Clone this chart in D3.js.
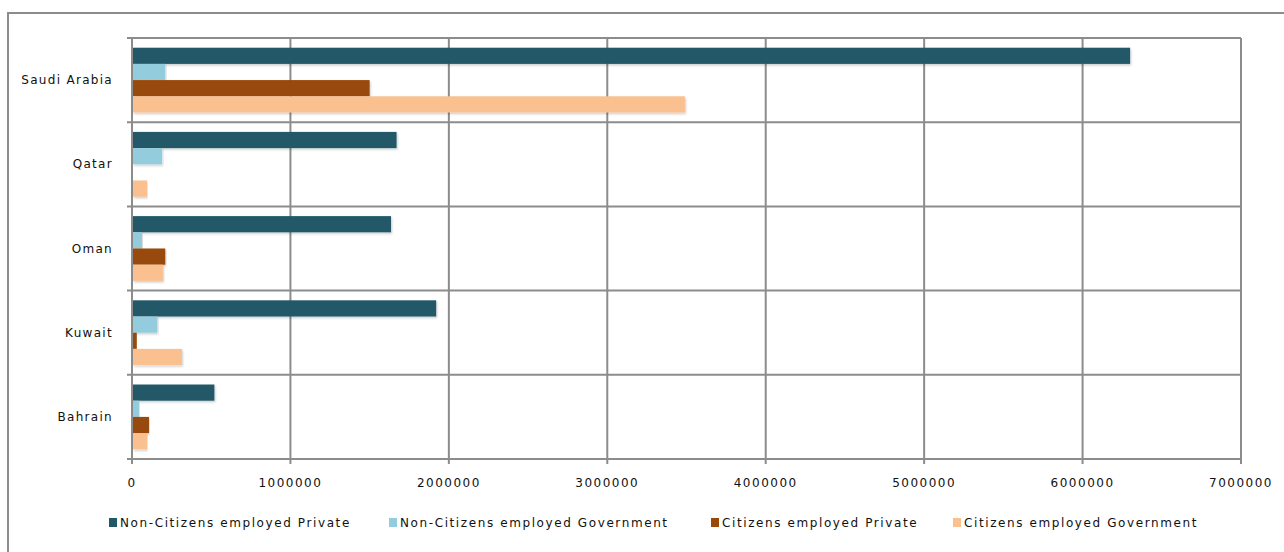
<!DOCTYPE html>
<html>
<head>
<meta charset="utf-8">
<script src="https://cdn.jsdelivr.net/npm/d3@7"></script>
<style>
  body { margin: 0; background: #fff; }
  text { font-family: "DejaVu Sans", Verdana, sans-serif; fill: #111; }
</style>
</head>
<body>
<div id="chart"></div>
<script>
// ---------- data ----------
var countries = ["Saudi Arabia", "Qatar", "Oman", "Kuwait", "Bahrain"];
var seriesNames = ["Non-Citizens employed Private", "Non-Citizens employed Government",
                   "Citizens employed Private", "Citizens employed Government"];
var nonCitPrivate = [6300000, 1670000, 1635000, 1920000, 520000];
var nonCitGov     = [210000, 190000, 63000, 160000, 45000];
var citPrivate    = [1500000, 0, 210000, 30000, 107000];
var citGov        = [3490000, 95000, 195000, 315000, 95000];
var xTicks = [0, 1000000, 2000000, 3000000, 4000000, 5000000, 6000000, 7000000];

var colors = ["#215968", "#93cddd", "#984807", "#fac090"];

(function() {
    var width = 1284, height = 552;
    var margin = {left: 132, right: 43, top: 38, bottom: 93};

    var svg = d3.select("#chart").append("svg")
        .attr("width", width)
        .attr("height", height);

    // outer chart border
    svg.append("rect")
        .attr("x", 8).attr("y", 13)
        .attr("width", width).attr("height", height)
        .attr("fill", "none")
        .attr("stroke", "#8c8c8c")
        .attr("stroke-width", 2);

    var values = [nonCitPrivate, nonCitGov, citPrivate, citGov];

    var x = d3.scaleLinear().domain([0, 7000000]).range([margin.left, width - margin.right]);
    var y = d3.scaleBand().domain(countries).range([margin.top, height - margin.bottom])
        .paddingInner(0).paddingOuter(0);
    var ySub = d3.scaleBand().domain(d3.range(4)).range([0, y.bandwidth()])
        .paddingOuter(0.6).paddingInner(0);

    var grid = svg.append("g");
    // vertical grid lines
    grid.selectAll(".vg").data(xTicks).enter().append("line")
        .attr("x1", function(d) { return x(d); })
        .attr("x2", function(d) { return x(d); })
        .attr("y1", margin.top)
        .attr("y2", height - margin.bottom + 5)
        .attr("stroke", "#8c8c8c").attr("stroke-width", 2);
    // horizontal band separators
    var bounds = countries.map(function(c) { return y(c); }).concat([height - margin.bottom]);
    grid.selectAll(".hg").data(bounds).enter().append("line")
        .attr("x1", margin.left - 5)
        .attr("x2", x(7000000))
        .attr("y1", function(d) { return d; })
        .attr("y2", function(d) { return d; })
        .attr("stroke", "#8c8c8c").attr("stroke-width", 2);

    // shadow filter
    var defs = svg.append("defs");
    var f = defs.append("filter").attr("id", "sh").attr("x", "-5%").attr("y", "-30%")
        .attr("width", "110%").attr("height", "160%");
    f.append("feDropShadow").attr("dx", 1).attr("dy", 1.5).attr("stdDeviation", 1)
        .attr("flood-color", "#000").attr("flood-opacity", 0.2);

    // bars
    var rows = [];
    countries.forEach(function(c, i) {
        values.forEach(function(arr, s) {
            rows.push({country: c, s: s, v: arr[i]});
        });
    });
    svg.append("g").selectAll("rect").data(rows.filter(function(d) { return d.v > 0; }))
        .enter().append("rect")
        .attr("x", x(0) + 1)
        .attr("y", function(d) { return y(d.country) + ySub(d.s); })
        .attr("height", ySub.bandwidth())
        .attr("width", function(d) { return Math.max(0, x(d.v) - x(0) - 1); })
        .attr("fill", function(d) { return colors[d.s]; })
        .attr("filter", "url(#sh)");

    // x tick labels
    svg.append("g").selectAll("text").data(xTicks).enter().append("text")
        .attr("x", function(d) { return x(d); })
        .attr("y", 487)
        .attr("text-anchor", "middle")
        .style("font-size", "12px")
        .style("letter-spacing", "1.5px")
        .text(function(d) { return d; });

    // category labels
    svg.append("g").selectAll("text").data(countries).enter().append("text")
        .attr("x", 113)
        .attr("y", function(d) { return y(d) + y.bandwidth() / 2 + 4; })
        .attr("text-anchor", "end")
        .style("font-size", "12px")
        .style("letter-spacing", "1.3px")
        .text(function(d) { return d; });

    // legend
    var legX = [109, 389, 711, 953];
    var leg = svg.append("g").selectAll("g").data(seriesNames).enter().append("g")
        .attr("transform", function(d, i) { return "translate(" + legX[i] + ",523)"; });
    leg.append("rect").attr("x", 0).attr("y", -5).attr("width", 8).attr("height", 9)
        .attr("fill", function(d, i) { return colors[i]; });
    leg.append("text").attr("x", 11).attr("y", 4)
        .style("font-size", "12px")
        .style("letter-spacing", "1.6px")
        .text(function(d) { return d; });
})();
</script>
</body>
</html>
